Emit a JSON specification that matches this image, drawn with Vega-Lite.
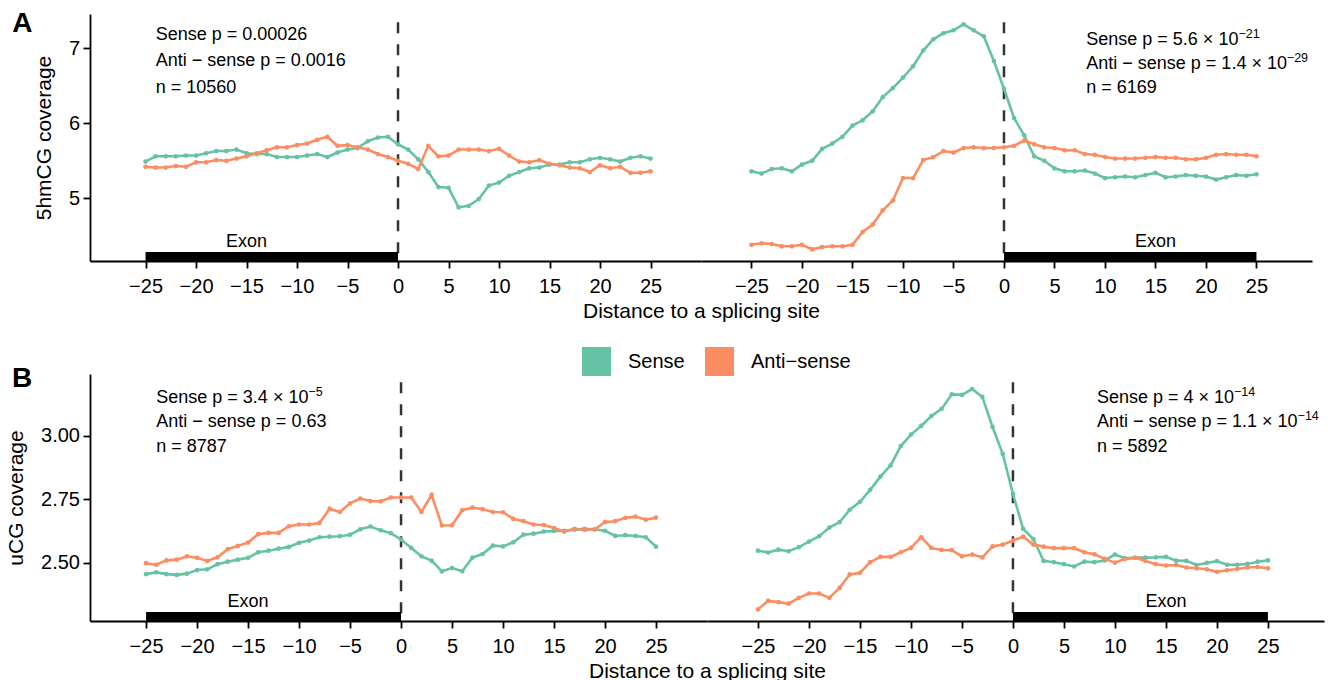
{
"$schema":"https://vega.github.io/schema/vega-lite/v6.json",
"padding":{"left":5,"top":10,"right":5,"bottom":5},
"bounds":"flush",
"spacing":113,
"config":{"view":{"stroke":null},"font":"Liberation Sans",
"axis":{"domainColor":"#000","domainWidth":1.8,"tickColor":"#000","tickWidth":1.8,"tickSize":7,"labelColor":"#000","labelFontSize":20,"labelFont":"Liberation Sans","titleFont":"Liberation Sans","titleFontSize":21,"titleFontWeight":"normal","titleColor":"#000","grid":false},
"legend":{"orient":"none","legendX":492,"legendY":333,"direction":"horizontal","symbolType":"square","symbolSize":841,"symbolStrokeWidth":0,"symbolOpacity":1,"labelFontSize":20,"labelOffset":17,"columnPadding":20,"labelFont":"Liberation Sans","labelColor":"#000"},
"text":{"font":"Liberation Sans","color":"#000"}},
"datasets":{
"hmc":[
{"site":"donor","strand":"Sense","dist":-25,"cov":5.49},{"site":"donor","strand":"Sense","dist":-24,"cov":5.56},{"site":"donor","strand":"Sense","dist":-23,"cov":5.56},{"site":"donor","strand":"Sense","dist":-22,"cov":5.56},{"site":"donor","strand":"Sense","dist":-21,"cov":5.57},{"site":"donor","strand":"Sense","dist":-20,"cov":5.57},{"site":"donor","strand":"Sense","dist":-19,"cov":5.60},{"site":"donor","strand":"Sense","dist":-18,"cov":5.63},{"site":"donor","strand":"Sense","dist":-17,"cov":5.63},{"site":"donor","strand":"Sense","dist":-16,"cov":5.65},{"site":"donor","strand":"Sense","dist":-15,"cov":5.60},{"site":"donor","strand":"Sense","dist":-14,"cov":5.59},{"site":"donor","strand":"Sense","dist":-13,"cov":5.59},{"site":"donor","strand":"Sense","dist":-12,"cov":5.55},{"site":"donor","strand":"Sense","dist":-11,"cov":5.55},{"site":"donor","strand":"Sense","dist":-10,"cov":5.55},{"site":"donor","strand":"Sense","dist":-9,"cov":5.57},{"site":"donor","strand":"Sense","dist":-8,"cov":5.59},{"site":"donor","strand":"Sense","dist":-7,"cov":5.55},{"site":"donor","strand":"Sense","dist":-6,"cov":5.61},{"site":"donor","strand":"Sense","dist":-5,"cov":5.65},{"site":"donor","strand":"Sense","dist":-4,"cov":5.67},{"site":"donor","strand":"Sense","dist":-3,"cov":5.76},{"site":"donor","strand":"Sense","dist":-2,"cov":5.81},{"site":"donor","strand":"Sense","dist":-1,"cov":5.82},{"site":"donor","strand":"Sense","dist":0,"cov":5.72},{"site":"donor","strand":"Sense","dist":1,"cov":5.65},{"site":"donor","strand":"Sense","dist":2,"cov":5.52},{"site":"donor","strand":"Sense","dist":3,"cov":5.35},{"site":"donor","strand":"Sense","dist":4,"cov":5.15},{"site":"donor","strand":"Sense","dist":5,"cov":5.14},{"site":"donor","strand":"Sense","dist":6,"cov":4.88},{"site":"donor","strand":"Sense","dist":7,"cov":4.90},{"site":"donor","strand":"Sense","dist":8,"cov":4.99},{"site":"donor","strand":"Sense","dist":9,"cov":5.17},{"site":"donor","strand":"Sense","dist":10,"cov":5.21},{"site":"donor","strand":"Sense","dist":11,"cov":5.30},{"site":"donor","strand":"Sense","dist":12,"cov":5.35},{"site":"donor","strand":"Sense","dist":13,"cov":5.40},{"site":"donor","strand":"Sense","dist":14,"cov":5.41},{"site":"donor","strand":"Sense","dist":15,"cov":5.45},{"site":"donor","strand":"Sense","dist":16,"cov":5.45},{"site":"donor","strand":"Sense","dist":17,"cov":5.48},{"site":"donor","strand":"Sense","dist":18,"cov":5.48},{"site":"donor","strand":"Sense","dist":19,"cov":5.52},{"site":"donor","strand":"Sense","dist":20,"cov":5.54},{"site":"donor","strand":"Sense","dist":21,"cov":5.52},{"site":"donor","strand":"Sense","dist":22,"cov":5.49},{"site":"donor","strand":"Sense","dist":23,"cov":5.54},{"site":"donor","strand":"Sense","dist":24,"cov":5.56},{"site":"donor","strand":"Sense","dist":25,"cov":5.53},
{"site":"donor","strand":"Anti−sense","dist":-25,"cov":5.42},{"site":"donor","strand":"Anti−sense","dist":-24,"cov":5.41},{"site":"donor","strand":"Anti−sense","dist":-23,"cov":5.41},{"site":"donor","strand":"Anti−sense","dist":-22,"cov":5.43},{"site":"donor","strand":"Anti−sense","dist":-21,"cov":5.42},{"site":"donor","strand":"Anti−sense","dist":-20,"cov":5.48},{"site":"donor","strand":"Anti−sense","dist":-19,"cov":5.48},{"site":"donor","strand":"Anti−sense","dist":-18,"cov":5.51},{"site":"donor","strand":"Anti−sense","dist":-17,"cov":5.50},{"site":"donor","strand":"Anti−sense","dist":-16,"cov":5.53},{"site":"donor","strand":"Anti−sense","dist":-15,"cov":5.56},{"site":"donor","strand":"Anti−sense","dist":-14,"cov":5.60},{"site":"donor","strand":"Anti−sense","dist":-13,"cov":5.64},{"site":"donor","strand":"Anti−sense","dist":-12,"cov":5.68},{"site":"donor","strand":"Anti−sense","dist":-11,"cov":5.68},{"site":"donor","strand":"Anti−sense","dist":-10,"cov":5.71},{"site":"donor","strand":"Anti−sense","dist":-9,"cov":5.73},{"site":"donor","strand":"Anti−sense","dist":-8,"cov":5.78},{"site":"donor","strand":"Anti−sense","dist":-7,"cov":5.82},{"site":"donor","strand":"Anti−sense","dist":-6,"cov":5.70},{"site":"donor","strand":"Anti−sense","dist":-5,"cov":5.71},{"site":"donor","strand":"Anti−sense","dist":-4,"cov":5.68},{"site":"donor","strand":"Anti−sense","dist":-3,"cov":5.65},{"site":"donor","strand":"Anti−sense","dist":-2,"cov":5.59},{"site":"donor","strand":"Anti−sense","dist":-1,"cov":5.55},{"site":"donor","strand":"Anti−sense","dist":0,"cov":5.50},{"site":"donor","strand":"Anti−sense","dist":1,"cov":5.46},{"site":"donor","strand":"Anti−sense","dist":2,"cov":5.39},{"site":"donor","strand":"Anti−sense","dist":3,"cov":5.70},{"site":"donor","strand":"Anti−sense","dist":4,"cov":5.56},{"site":"donor","strand":"Anti−sense","dist":5,"cov":5.57},{"site":"donor","strand":"Anti−sense","dist":6,"cov":5.65},{"site":"donor","strand":"Anti−sense","dist":7,"cov":5.65},{"site":"donor","strand":"Anti−sense","dist":8,"cov":5.65},{"site":"donor","strand":"Anti−sense","dist":9,"cov":5.63},{"site":"donor","strand":"Anti−sense","dist":10,"cov":5.66},{"site":"donor","strand":"Anti−sense","dist":11,"cov":5.57},{"site":"donor","strand":"Anti−sense","dist":12,"cov":5.49},{"site":"donor","strand":"Anti−sense","dist":13,"cov":5.48},{"site":"donor","strand":"Anti−sense","dist":14,"cov":5.51},{"site":"donor","strand":"Anti−sense","dist":15,"cov":5.46},{"site":"donor","strand":"Anti−sense","dist":16,"cov":5.44},{"site":"donor","strand":"Anti−sense","dist":17,"cov":5.41},{"site":"donor","strand":"Anti−sense","dist":18,"cov":5.40},{"site":"donor","strand":"Anti−sense","dist":19,"cov":5.35},{"site":"donor","strand":"Anti−sense","dist":20,"cov":5.44},{"site":"donor","strand":"Anti−sense","dist":21,"cov":5.40},{"site":"donor","strand":"Anti−sense","dist":22,"cov":5.42},{"site":"donor","strand":"Anti−sense","dist":23,"cov":5.34},{"site":"donor","strand":"Anti−sense","dist":24,"cov":5.34},{"site":"donor","strand":"Anti−sense","dist":25,"cov":5.36},
{"site":"acceptor","strand":"Sense","dist":-25,"cov":5.36},{"site":"acceptor","strand":"Sense","dist":-24,"cov":5.33},{"site":"acceptor","strand":"Sense","dist":-23,"cov":5.39},{"site":"acceptor","strand":"Sense","dist":-22,"cov":5.40},{"site":"acceptor","strand":"Sense","dist":-21,"cov":5.36},{"site":"acceptor","strand":"Sense","dist":-20,"cov":5.45},{"site":"acceptor","strand":"Sense","dist":-19,"cov":5.50},{"site":"acceptor","strand":"Sense","dist":-18,"cov":5.66},{"site":"acceptor","strand":"Sense","dist":-17,"cov":5.73},{"site":"acceptor","strand":"Sense","dist":-16,"cov":5.82},{"site":"acceptor","strand":"Sense","dist":-15,"cov":5.97},{"site":"acceptor","strand":"Sense","dist":-14,"cov":6.04},{"site":"acceptor","strand":"Sense","dist":-13,"cov":6.16},{"site":"acceptor","strand":"Sense","dist":-12,"cov":6.35},{"site":"acceptor","strand":"Sense","dist":-11,"cov":6.47},{"site":"acceptor","strand":"Sense","dist":-10,"cov":6.61},{"site":"acceptor","strand":"Sense","dist":-9,"cov":6.76},{"site":"acceptor","strand":"Sense","dist":-8,"cov":6.97},{"site":"acceptor","strand":"Sense","dist":-7,"cov":7.12},{"site":"acceptor","strand":"Sense","dist":-6,"cov":7.20},{"site":"acceptor","strand":"Sense","dist":-5,"cov":7.24},{"site":"acceptor","strand":"Sense","dist":-4,"cov":7.32},{"site":"acceptor","strand":"Sense","dist":-3,"cov":7.24},{"site":"acceptor","strand":"Sense","dist":-2,"cov":7.16},{"site":"acceptor","strand":"Sense","dist":-1,"cov":6.83},{"site":"acceptor","strand":"Sense","dist":0,"cov":6.46},{"site":"acceptor","strand":"Sense","dist":1,"cov":6.07},{"site":"acceptor","strand":"Sense","dist":2,"cov":5.84},{"site":"acceptor","strand":"Sense","dist":3,"cov":5.56},{"site":"acceptor","strand":"Sense","dist":4,"cov":5.50},{"site":"acceptor","strand":"Sense","dist":5,"cov":5.40},{"site":"acceptor","strand":"Sense","dist":6,"cov":5.36},{"site":"acceptor","strand":"Sense","dist":7,"cov":5.36},{"site":"acceptor","strand":"Sense","dist":8,"cov":5.37},{"site":"acceptor","strand":"Sense","dist":9,"cov":5.33},{"site":"acceptor","strand":"Sense","dist":10,"cov":5.27},{"site":"acceptor","strand":"Sense","dist":11,"cov":5.28},{"site":"acceptor","strand":"Sense","dist":12,"cov":5.29},{"site":"acceptor","strand":"Sense","dist":13,"cov":5.28},{"site":"acceptor","strand":"Sense","dist":14,"cov":5.31},{"site":"acceptor","strand":"Sense","dist":15,"cov":5.34},{"site":"acceptor","strand":"Sense","dist":16,"cov":5.28},{"site":"acceptor","strand":"Sense","dist":17,"cov":5.29},{"site":"acceptor","strand":"Sense","dist":18,"cov":5.31},{"site":"acceptor","strand":"Sense","dist":19,"cov":5.30},{"site":"acceptor","strand":"Sense","dist":20,"cov":5.29},{"site":"acceptor","strand":"Sense","dist":21,"cov":5.25},{"site":"acceptor","strand":"Sense","dist":22,"cov":5.28},{"site":"acceptor","strand":"Sense","dist":23,"cov":5.31},{"site":"acceptor","strand":"Sense","dist":24,"cov":5.30},{"site":"acceptor","strand":"Sense","dist":25,"cov":5.32},
{"site":"acceptor","strand":"Anti−sense","dist":-25,"cov":4.38},{"site":"acceptor","strand":"Anti−sense","dist":-24,"cov":4.40},{"site":"acceptor","strand":"Anti−sense","dist":-23,"cov":4.39},{"site":"acceptor","strand":"Anti−sense","dist":-22,"cov":4.36},{"site":"acceptor","strand":"Anti−sense","dist":-21,"cov":4.36},{"site":"acceptor","strand":"Anti−sense","dist":-20,"cov":4.38},{"site":"acceptor","strand":"Anti−sense","dist":-19,"cov":4.32},{"site":"acceptor","strand":"Anti−sense","dist":-18,"cov":4.35},{"site":"acceptor","strand":"Anti−sense","dist":-17,"cov":4.36},{"site":"acceptor","strand":"Anti−sense","dist":-16,"cov":4.36},{"site":"acceptor","strand":"Anti−sense","dist":-15,"cov":4.38},{"site":"acceptor","strand":"Anti−sense","dist":-14,"cov":4.55},{"site":"acceptor","strand":"Anti−sense","dist":-13,"cov":4.65},{"site":"acceptor","strand":"Anti−sense","dist":-12,"cov":4.84},{"site":"acceptor","strand":"Anti−sense","dist":-11,"cov":4.97},{"site":"acceptor","strand":"Anti−sense","dist":-10,"cov":5.27},{"site":"acceptor","strand":"Anti−sense","dist":-9,"cov":5.27},{"site":"acceptor","strand":"Anti−sense","dist":-8,"cov":5.51},{"site":"acceptor","strand":"Anti−sense","dist":-7,"cov":5.55},{"site":"acceptor","strand":"Anti−sense","dist":-6,"cov":5.63},{"site":"acceptor","strand":"Anti−sense","dist":-5,"cov":5.61},{"site":"acceptor","strand":"Anti−sense","dist":-4,"cov":5.67},{"site":"acceptor","strand":"Anti−sense","dist":-3,"cov":5.68},{"site":"acceptor","strand":"Anti−sense","dist":-2,"cov":5.67},{"site":"acceptor","strand":"Anti−sense","dist":-1,"cov":5.67},{"site":"acceptor","strand":"Anti−sense","dist":0,"cov":5.68},{"site":"acceptor","strand":"Anti−sense","dist":1,"cov":5.70},{"site":"acceptor","strand":"Anti−sense","dist":2,"cov":5.77},{"site":"acceptor","strand":"Anti−sense","dist":3,"cov":5.72},{"site":"acceptor","strand":"Anti−sense","dist":4,"cov":5.68},{"site":"acceptor","strand":"Anti−sense","dist":5,"cov":5.67},{"site":"acceptor","strand":"Anti−sense","dist":6,"cov":5.64},{"site":"acceptor","strand":"Anti−sense","dist":7,"cov":5.64},{"site":"acceptor","strand":"Anti−sense","dist":8,"cov":5.59},{"site":"acceptor","strand":"Anti−sense","dist":9,"cov":5.58},{"site":"acceptor","strand":"Anti−sense","dist":10,"cov":5.55},{"site":"acceptor","strand":"Anti−sense","dist":11,"cov":5.53},{"site":"acceptor","strand":"Anti−sense","dist":12,"cov":5.53},{"site":"acceptor","strand":"Anti−sense","dist":13,"cov":5.53},{"site":"acceptor","strand":"Anti−sense","dist":14,"cov":5.54},{"site":"acceptor","strand":"Anti−sense","dist":15,"cov":5.55},{"site":"acceptor","strand":"Anti−sense","dist":16,"cov":5.54},{"site":"acceptor","strand":"Anti−sense","dist":17,"cov":5.54},{"site":"acceptor","strand":"Anti−sense","dist":18,"cov":5.52},{"site":"acceptor","strand":"Anti−sense","dist":19,"cov":5.52},{"site":"acceptor","strand":"Anti−sense","dist":20,"cov":5.54},{"site":"acceptor","strand":"Anti−sense","dist":21,"cov":5.58},{"site":"acceptor","strand":"Anti−sense","dist":22,"cov":5.59},{"site":"acceptor","strand":"Anti−sense","dist":23,"cov":5.58},{"site":"acceptor","strand":"Anti−sense","dist":24,"cov":5.58},{"site":"acceptor","strand":"Anti−sense","dist":25,"cov":5.56}
],
"ucg":[
{"site":"donor","strand":"Sense","dist":-25,"cov":2.456},{"site":"donor","strand":"Sense","dist":-24,"cov":2.463},{"site":"donor","strand":"Sense","dist":-23,"cov":2.456},{"site":"donor","strand":"Sense","dist":-22,"cov":2.453},{"site":"donor","strand":"Sense","dist":-21,"cov":2.458},{"site":"donor","strand":"Sense","dist":-20,"cov":2.472},{"site":"donor","strand":"Sense","dist":-19,"cov":2.475},{"site":"donor","strand":"Sense","dist":-18,"cov":2.495},{"site":"donor","strand":"Sense","dist":-17,"cov":2.505},{"site":"donor","strand":"Sense","dist":-16,"cov":2.513},{"site":"donor","strand":"Sense","dist":-15,"cov":2.520},{"site":"donor","strand":"Sense","dist":-14,"cov":2.542},{"site":"donor","strand":"Sense","dist":-13,"cov":2.548},{"site":"donor","strand":"Sense","dist":-12,"cov":2.556},{"site":"donor","strand":"Sense","dist":-11,"cov":2.563},{"site":"donor","strand":"Sense","dist":-10,"cov":2.579},{"site":"donor","strand":"Sense","dist":-9,"cov":2.588},{"site":"donor","strand":"Sense","dist":-8,"cov":2.601},{"site":"donor","strand":"Sense","dist":-7,"cov":2.603},{"site":"donor","strand":"Sense","dist":-6,"cov":2.605},{"site":"donor","strand":"Sense","dist":-5,"cov":2.611},{"site":"donor","strand":"Sense","dist":-4,"cov":2.632},{"site":"donor","strand":"Sense","dist":-3,"cov":2.643},{"site":"donor","strand":"Sense","dist":-2,"cov":2.628},{"site":"donor","strand":"Sense","dist":-1,"cov":2.617},{"site":"donor","strand":"Sense","dist":0,"cov":2.592},{"site":"donor","strand":"Sense","dist":1,"cov":2.559},{"site":"donor","strand":"Sense","dist":2,"cov":2.526},{"site":"donor","strand":"Sense","dist":3,"cov":2.509},{"site":"donor","strand":"Sense","dist":4,"cov":2.467},{"site":"donor","strand":"Sense","dist":5,"cov":2.480},{"site":"donor","strand":"Sense","dist":6,"cov":2.467},{"site":"donor","strand":"Sense","dist":7,"cov":2.521},{"site":"donor","strand":"Sense","dist":8,"cov":2.535},{"site":"donor","strand":"Sense","dist":9,"cov":2.568},{"site":"donor","strand":"Sense","dist":10,"cov":2.565},{"site":"donor","strand":"Sense","dist":11,"cov":2.581},{"site":"donor","strand":"Sense","dist":12,"cov":2.611},{"site":"donor","strand":"Sense","dist":13,"cov":2.615},{"site":"donor","strand":"Sense","dist":14,"cov":2.623},{"site":"donor","strand":"Sense","dist":15,"cov":2.626},{"site":"donor","strand":"Sense","dist":16,"cov":2.626},{"site":"donor","strand":"Sense","dist":17,"cov":2.631},{"site":"donor","strand":"Sense","dist":18,"cov":2.634},{"site":"donor","strand":"Sense","dist":19,"cov":2.632},{"site":"donor","strand":"Sense","dist":20,"cov":2.626},{"site":"donor","strand":"Sense","dist":21,"cov":2.606},{"site":"donor","strand":"Sense","dist":22,"cov":2.609},{"site":"donor","strand":"Sense","dist":23,"cov":2.606},{"site":"donor","strand":"Sense","dist":24,"cov":2.601},{"site":"donor","strand":"Sense","dist":25,"cov":2.564},
{"site":"donor","strand":"Anti−sense","dist":-25,"cov":2.499},{"site":"donor","strand":"Anti−sense","dist":-24,"cov":2.493},{"site":"donor","strand":"Anti−sense","dist":-23,"cov":2.510},{"site":"donor","strand":"Anti−sense","dist":-22,"cov":2.513},{"site":"donor","strand":"Anti−sense","dist":-21,"cov":2.526},{"site":"donor","strand":"Anti−sense","dist":-20,"cov":2.520},{"site":"donor","strand":"Anti−sense","dist":-19,"cov":2.508},{"site":"donor","strand":"Anti−sense","dist":-18,"cov":2.522},{"site":"donor","strand":"Anti−sense","dist":-17,"cov":2.554},{"site":"donor","strand":"Anti−sense","dist":-16,"cov":2.567},{"site":"donor","strand":"Anti−sense","dist":-15,"cov":2.580},{"site":"donor","strand":"Anti−sense","dist":-14,"cov":2.613},{"site":"donor","strand":"Anti−sense","dist":-13,"cov":2.618},{"site":"donor","strand":"Anti−sense","dist":-12,"cov":2.618},{"site":"donor","strand":"Anti−sense","dist":-11,"cov":2.644},{"site":"donor","strand":"Anti−sense","dist":-10,"cov":2.651},{"site":"donor","strand":"Anti−sense","dist":-9,"cov":2.651},{"site":"donor","strand":"Anti−sense","dist":-8,"cov":2.657},{"site":"donor","strand":"Anti−sense","dist":-7,"cov":2.713},{"site":"donor","strand":"Anti−sense","dist":-6,"cov":2.700},{"site":"donor","strand":"Anti−sense","dist":-5,"cov":2.734},{"site":"donor","strand":"Anti−sense","dist":-4,"cov":2.753},{"site":"donor","strand":"Anti−sense","dist":-3,"cov":2.743},{"site":"donor","strand":"Anti−sense","dist":-2,"cov":2.742},{"site":"donor","strand":"Anti−sense","dist":-1,"cov":2.757},{"site":"donor","strand":"Anti−sense","dist":0,"cov":2.757},{"site":"donor","strand":"Anti−sense","dist":1,"cov":2.757},{"site":"donor","strand":"Anti−sense","dist":2,"cov":2.700},{"site":"donor","strand":"Anti−sense","dist":3,"cov":2.767},{"site":"donor","strand":"Anti−sense","dist":4,"cov":2.647},{"site":"donor","strand":"Anti−sense","dist":5,"cov":2.648},{"site":"donor","strand":"Anti−sense","dist":6,"cov":2.707},{"site":"donor","strand":"Anti−sense","dist":7,"cov":2.717},{"site":"donor","strand":"Anti−sense","dist":8,"cov":2.711},{"site":"donor","strand":"Anti−sense","dist":9,"cov":2.700},{"site":"donor","strand":"Anti−sense","dist":10,"cov":2.699},{"site":"donor","strand":"Anti−sense","dist":11,"cov":2.673},{"site":"donor","strand":"Anti−sense","dist":12,"cov":2.664},{"site":"donor","strand":"Anti−sense","dist":13,"cov":2.651},{"site":"donor","strand":"Anti−sense","dist":14,"cov":2.649},{"site":"donor","strand":"Anti−sense","dist":15,"cov":2.637},{"site":"donor","strand":"Anti−sense","dist":16,"cov":2.623},{"site":"donor","strand":"Anti−sense","dist":17,"cov":2.634},{"site":"donor","strand":"Anti−sense","dist":18,"cov":2.630},{"site":"donor","strand":"Anti−sense","dist":19,"cov":2.632},{"site":"donor","strand":"Anti−sense","dist":20,"cov":2.661},{"site":"donor","strand":"Anti−sense","dist":21,"cov":2.664},{"site":"donor","strand":"Anti−sense","dist":22,"cov":2.677},{"site":"donor","strand":"Anti−sense","dist":23,"cov":2.682},{"site":"donor","strand":"Anti−sense","dist":24,"cov":2.670},{"site":"donor","strand":"Anti−sense","dist":25,"cov":2.678},
{"site":"acceptor","strand":"Sense","dist":-25,"cov":2.548},{"site":"acceptor","strand":"Sense","dist":-24,"cov":2.541},{"site":"acceptor","strand":"Sense","dist":-23,"cov":2.552},{"site":"acceptor","strand":"Sense","dist":-22,"cov":2.546},{"site":"acceptor","strand":"Sense","dist":-21,"cov":2.562},{"site":"acceptor","strand":"Sense","dist":-20,"cov":2.584},{"site":"acceptor","strand":"Sense","dist":-19,"cov":2.605},{"site":"acceptor","strand":"Sense","dist":-18,"cov":2.639},{"site":"acceptor","strand":"Sense","dist":-17,"cov":2.660},{"site":"acceptor","strand":"Sense","dist":-16,"cov":2.709},{"site":"acceptor","strand":"Sense","dist":-15,"cov":2.740},{"site":"acceptor","strand":"Sense","dist":-14,"cov":2.787},{"site":"acceptor","strand":"Sense","dist":-13,"cov":2.839},{"site":"acceptor","strand":"Sense","dist":-12,"cov":2.883},{"site":"acceptor","strand":"Sense","dist":-11,"cov":2.959},{"site":"acceptor","strand":"Sense","dist":-10,"cov":3.004},{"site":"acceptor","strand":"Sense","dist":-9,"cov":3.038},{"site":"acceptor","strand":"Sense","dist":-8,"cov":3.077},{"site":"acceptor","strand":"Sense","dist":-7,"cov":3.105},{"site":"acceptor","strand":"Sense","dist":-6,"cov":3.162},{"site":"acceptor","strand":"Sense","dist":-5,"cov":3.160},{"site":"acceptor","strand":"Sense","dist":-4,"cov":3.183},{"site":"acceptor","strand":"Sense","dist":-3,"cov":3.152},{"site":"acceptor","strand":"Sense","dist":-2,"cov":3.034},{"site":"acceptor","strand":"Sense","dist":-1,"cov":2.928},{"site":"acceptor","strand":"Sense","dist":0,"cov":2.771},{"site":"acceptor","strand":"Sense","dist":1,"cov":2.634},{"site":"acceptor","strand":"Sense","dist":2,"cov":2.594},{"site":"acceptor","strand":"Sense","dist":3,"cov":2.508},{"site":"acceptor","strand":"Sense","dist":4,"cov":2.503},{"site":"acceptor","strand":"Sense","dist":5,"cov":2.495},{"site":"acceptor","strand":"Sense","dist":6,"cov":2.486},{"site":"acceptor","strand":"Sense","dist":7,"cov":2.505},{"site":"acceptor","strand":"Sense","dist":8,"cov":2.503},{"site":"acceptor","strand":"Sense","dist":9,"cov":2.510},{"site":"acceptor","strand":"Sense","dist":10,"cov":2.533},{"site":"acceptor","strand":"Sense","dist":11,"cov":2.518},{"site":"acceptor","strand":"Sense","dist":12,"cov":2.521},{"site":"acceptor","strand":"Sense","dist":13,"cov":2.521},{"site":"acceptor","strand":"Sense","dist":14,"cov":2.522},{"site":"acceptor","strand":"Sense","dist":15,"cov":2.524},{"site":"acceptor","strand":"Sense","dist":16,"cov":2.509},{"site":"acceptor","strand":"Sense","dist":17,"cov":2.508},{"site":"acceptor","strand":"Sense","dist":18,"cov":2.492},{"site":"acceptor","strand":"Sense","dist":19,"cov":2.500},{"site":"acceptor","strand":"Sense","dist":20,"cov":2.507},{"site":"acceptor","strand":"Sense","dist":21,"cov":2.493},{"site":"acceptor","strand":"Sense","dist":22,"cov":2.493},{"site":"acceptor","strand":"Sense","dist":23,"cov":2.496},{"site":"acceptor","strand":"Sense","dist":24,"cov":2.505},{"site":"acceptor","strand":"Sense","dist":25,"cov":2.510},
{"site":"acceptor","strand":"Anti−sense","dist":-25,"cov":2.318},{"site":"acceptor","strand":"Anti−sense","dist":-24,"cov":2.351},{"site":"acceptor","strand":"Anti−sense","dist":-23,"cov":2.346},{"site":"acceptor","strand":"Anti−sense","dist":-22,"cov":2.340},{"site":"acceptor","strand":"Anti−sense","dist":-21,"cov":2.363},{"site":"acceptor","strand":"Anti−sense","dist":-20,"cov":2.380},{"site":"acceptor","strand":"Anti−sense","dist":-19,"cov":2.380},{"site":"acceptor","strand":"Anti−sense","dist":-18,"cov":2.363},{"site":"acceptor","strand":"Anti−sense","dist":-17,"cov":2.402},{"site":"acceptor","strand":"Anti−sense","dist":-16,"cov":2.455},{"site":"acceptor","strand":"Anti−sense","dist":-15,"cov":2.461},{"site":"acceptor","strand":"Anti−sense","dist":-14,"cov":2.503},{"site":"acceptor","strand":"Anti−sense","dist":-13,"cov":2.524},{"site":"acceptor","strand":"Anti−sense","dist":-12,"cov":2.524},{"site":"acceptor","strand":"Anti−sense","dist":-11,"cov":2.542},{"site":"acceptor","strand":"Anti−sense","dist":-10,"cov":2.559},{"site":"acceptor","strand":"Anti−sense","dist":-9,"cov":2.601},{"site":"acceptor","strand":"Anti−sense","dist":-8,"cov":2.559},{"site":"acceptor","strand":"Anti−sense","dist":-7,"cov":2.551},{"site":"acceptor","strand":"Anti−sense","dist":-6,"cov":2.550},{"site":"acceptor","strand":"Anti−sense","dist":-5,"cov":2.526},{"site":"acceptor","strand":"Anti−sense","dist":-4,"cov":2.533},{"site":"acceptor","strand":"Anti−sense","dist":-3,"cov":2.522},{"site":"acceptor","strand":"Anti−sense","dist":-2,"cov":2.565},{"site":"acceptor","strand":"Anti−sense","dist":-1,"cov":2.572},{"site":"acceptor","strand":"Anti−sense","dist":0,"cov":2.588},{"site":"acceptor","strand":"Anti−sense","dist":1,"cov":2.603},{"site":"acceptor","strand":"Anti−sense","dist":2,"cov":2.572},{"site":"acceptor","strand":"Anti−sense","dist":3,"cov":2.564},{"site":"acceptor","strand":"Anti−sense","dist":4,"cov":2.558},{"site":"acceptor","strand":"Anti−sense","dist":5,"cov":2.558},{"site":"acceptor","strand":"Anti−sense","dist":6,"cov":2.558},{"site":"acceptor","strand":"Anti−sense","dist":7,"cov":2.542},{"site":"acceptor","strand":"Anti−sense","dist":8,"cov":2.534},{"site":"acceptor","strand":"Anti−sense","dist":9,"cov":2.516},{"site":"acceptor","strand":"Anti−sense","dist":10,"cov":2.501},{"site":"acceptor","strand":"Anti−sense","dist":11,"cov":2.516},{"site":"acceptor","strand":"Anti−sense","dist":12,"cov":2.520},{"site":"acceptor","strand":"Anti−sense","dist":13,"cov":2.508},{"site":"acceptor","strand":"Anti−sense","dist":14,"cov":2.495},{"site":"acceptor","strand":"Anti−sense","dist":15,"cov":2.490},{"site":"acceptor","strand":"Anti−sense","dist":16,"cov":2.492},{"site":"acceptor","strand":"Anti−sense","dist":17,"cov":2.482},{"site":"acceptor","strand":"Anti−sense","dist":18,"cov":2.479},{"site":"acceptor","strand":"Anti−sense","dist":19,"cov":2.475},{"site":"acceptor","strand":"Anti−sense","dist":20,"cov":2.465},{"site":"acceptor","strand":"Anti−sense","dist":21,"cov":2.471},{"site":"acceptor","strand":"Anti−sense","dist":22,"cov":2.476},{"site":"acceptor","strand":"Anti−sense","dist":23,"cov":2.482},{"site":"acceptor","strand":"Anti−sense","dist":24,"cov":2.484},{"site":"acceptor","strand":"Anti−sense","dist":25,"cov":2.479}
]},
"vconcat":[
{"width":1222,"height":247,
"resolve":{"scale":{"x":"independent"},"axis":{"x":"independent"}},
"layer":[
{"encoding":{"x":{"field":"dist","type":"quantitative","scale":{"domain":[-30.5,30],"range":[0,611],"nice":false,"zero":false},"axis":{"orient":"bottom","values":[-25,-20,-15,-10,-5,0,5,10,15,20,25],"title":"Distance to a splicing site","titleAnchor":"end","titleAlign":"center","labelPadding":8,"titlePadding":4}}},
"layer":[
{"data":{"values":[{"dist":0}]},"mark":{"type":"rule","color":"#333333","strokeWidth":2.5,"strokeDash":[11,11],"strokeDashOffset":13.7}},
{"data":{"name":"hmc"},"transform":[{"filter":"datum.site == 'donor'"}],"mark":{"type":"line","strokeWidth":2.6},
"encoding":{"y":{"field":"cov","type":"quantitative","scale":{"domain":[4.164,7.457],"nice":false,"zero":false},"axis":{"values":[5,6,7],"format":"d","title":"5hmCG coverage","labelPadding":3.5,"titlePadding":14}},
"color":{"field":"strand","type":"nominal","title":null,"scale":{"domain":["Sense","Anti−sense"],"range":["#66C2A5","#FC8D62"]}}}},
{"data":{"name":"hmc"},"transform":[{"filter":"datum.site == 'donor'"}],"mark":{"type":"point","filled":true,"size":22,"opacity":1},
"encoding":{"y":{"field":"cov","type":"quantitative","scale":{"domain":[4.164,7.457],"nice":false,"zero":false},"axis":{"values":[5,6,7],"format":"d","title":"5hmCG coverage","labelPadding":3.5,"titlePadding":14}},
"color":{"field":"strand","type":"nominal","title":null,"scale":{"domain":["Sense","Anti−sense"],"range":["#66C2A5","#FC8D62"]}}}},
{"data":{"values":[{"dist":-25,"end":0}]},"mark":{"type":"rect","color":"#000"},"encoding":{"x2":{"field":"end"},"y":{"datum":4.284,"type":"quantitative","scale":{"domain":[4.164,7.457],"nice":false,"zero":false},"axis":{"values":[5,6,7],"format":"d","title":"5hmCG coverage","labelPadding":3.5,"titlePadding":14}},"y2":{"datum":4.164}}},
{"data":{"values":[{"dist":-15,"cov":4.351,"label":"Exon"}]},"mark":{"type":"text","align":"center","baseline":"alphabetic","fontSize":18},"encoding":{"text":{"field":"label"},"y":{"field":"cov","type":"quantitative","scale":{"domain":[4.164,7.457],"nice":false,"zero":false},"axis":{"values":[5,6,7],"format":"d","title":"5hmCG coverage","labelPadding":3.5,"titlePadding":14}}}},
{"data":{"values":[{"dist":-38.2,"cov":7.217,"label":"A"}]},"mark":{"type":"text","align":"left","baseline":"alphabetic","fontSize":28,"fontWeight":"bold"},"encoding":{"text":{"field":"label"},"y":{"field":"cov","type":"quantitative","scale":{"domain":[4.164,7.457],"nice":false,"zero":false},"axis":{"values":[5,6,7],"format":"d","title":"5hmCG coverage","labelPadding":3.5,"titlePadding":14}}}},
{"data":{"values":[{"dist":-24,"cov":7.115}]},"mark":{"type":"text","text":["Sense p = 0.00026","Anti − sense p = 0.0016","n = 10560"],"fontSize":18,"lineHeight":26.8,"align":"left","baseline":"alphabetic"},"encoding":{"y":{"field":"cov","type":"quantitative","scale":{"domain":[4.164,7.457],"nice":false,"zero":false},"axis":{"values":[5,6,7],"format":"d","title":"5hmCG coverage","labelPadding":3.5,"titlePadding":14}}}}
]},
{"encoding":{"x":{"field":"dist","type":"quantitative","scale":{"domain":[-30,30.5],"range":[611,1222],"nice":false,"zero":false},"axis":{"orient":"bottom","values":[-25,-20,-15,-10,-5,0,5,10,15,20,25],"title":null,"labelPadding":8}}},
"layer":[
{"data":{"values":[{"dist":0}]},"mark":{"type":"rule","color":"#333333","strokeWidth":2.5,"strokeDash":[11,11],"strokeDashOffset":13.7}},
{"data":{"name":"hmc"},"transform":[{"filter":"datum.site == 'acceptor'"}],"mark":{"type":"line","strokeWidth":2.6},
"encoding":{"y":{"field":"cov","type":"quantitative","scale":{"domain":[4.164,7.457],"nice":false,"zero":false},"axis":{"values":[5,6,7],"format":"d","title":"5hmCG coverage","labelPadding":3.5,"titlePadding":14}},
"color":{"field":"strand","type":"nominal","title":null,"scale":{"domain":["Sense","Anti−sense"],"range":["#66C2A5","#FC8D62"]}}}},
{"data":{"name":"hmc"},"transform":[{"filter":"datum.site == 'acceptor'"}],"mark":{"type":"point","filled":true,"size":22,"opacity":1},
"encoding":{"y":{"field":"cov","type":"quantitative","scale":{"domain":[4.164,7.457],"nice":false,"zero":false},"axis":{"values":[5,6,7],"format":"d","title":"5hmCG coverage","labelPadding":3.5,"titlePadding":14}},
"color":{"field":"strand","type":"nominal","title":null,"scale":{"domain":["Sense","Anti−sense"],"range":["#66C2A5","#FC8D62"]}}}},
{"data":{"values":[{"dist":0,"end":25}]},"mark":{"type":"rect","color":"#000"},"encoding":{"x2":{"field":"end"},"y":{"datum":4.284,"type":"quantitative","scale":{"domain":[4.164,7.457],"nice":false,"zero":false},"axis":{"values":[5,6,7],"format":"d","title":"5hmCG coverage","labelPadding":3.5,"titlePadding":14}},"y2":{"datum":4.164}}},
{"data":{"values":[{"dist":15,"cov":4.351,"label":"Exon"}]},"mark":{"type":"text","align":"center","baseline":"alphabetic","fontSize":18},"encoding":{"text":{"field":"label"},"y":{"field":"cov","type":"quantitative","scale":{"domain":[4.164,7.457],"nice":false,"zero":false},"axis":{"values":[5,6,7],"format":"d","title":"5hmCG coverage","labelPadding":3.5,"titlePadding":14}}}},
{"data":{"values":[{"dist":8.15,"cov":7.044}]},"mark":{"type":"text","text":["Sense p = 5.6 × 10","Anti − sense p = 1.4 × 10","n = 6169"],"fontSize":18,"lineHeight":24.2,"align":"left","baseline":"alphabetic"},"encoding":{"y":{"field":"cov","type":"quantitative","scale":{"domain":[4.164,7.457],"nice":false,"zero":false},"axis":{"values":[5,6,7],"format":"d","title":"5hmCG coverage","labelPadding":3.5,"titlePadding":14}}}},
{"data":{"values":[{"dist":23.21,"cov":7.137,"label":"−21"},{"dist":28.01,"cov":6.814,"label":"−29"}]},"mark":{"type":"text","fontSize":12.5,"align":"left","baseline":"alphabetic"},"encoding":{"text":{"field":"label"},"y":{"field":"cov","type":"quantitative","scale":{"domain":[4.164,7.457],"nice":false,"zero":false},"axis":{"values":[5,6,7],"format":"d","title":"5hmCG coverage","labelPadding":3.5,"titlePadding":14}}}}
]}
]},
{"width":1234,"height":247,
"resolve":{"scale":{"x":"independent"},"axis":{"x":"independent"}},
"layer":[
{"encoding":{"x":{"field":"dist","type":"quantitative","scale":{"domain":[-30.5,30],"range":[0,617],"nice":false,"zero":false},"axis":{"orient":"bottom","values":[-25,-20,-15,-10,-5,0,5,10,15,20,25],"title":"Distance to a splicing site","titleAnchor":"end","titleAlign":"center","labelPadding":8,"titlePadding":4}}},
"layer":[
{"data":{"values":[{"dist":0}]},"mark":{"type":"rule","color":"#333333","strokeWidth":2.5,"strokeDash":[11,11],"strokeDashOffset":13.7}},
{"data":{"name":"ucg"},"transform":[{"filter":"datum.site == 'donor'"}],"mark":{"type":"line","strokeWidth":2.6},
"encoding":{"y":{"field":"cov","type":"quantitative","scale":{"domain":[2.272,3.242],"nice":false,"zero":false},"axis":{"values":[2.5,2.75,3.0],"format":".2f","title":"uCG coverage","labelPadding":3.5,"titlePadding":14}},
"color":{"field":"strand","type":"nominal","title":null,"scale":{"domain":["Sense","Anti−sense"],"range":["#66C2A5","#FC8D62"]}}}},
{"data":{"name":"ucg"},"transform":[{"filter":"datum.site == 'donor'"}],"mark":{"type":"point","filled":true,"size":22,"opacity":1},
"encoding":{"y":{"field":"cov","type":"quantitative","scale":{"domain":[2.272,3.242],"nice":false,"zero":false},"axis":{"values":[2.5,2.75,3.0],"format":".2f","title":"uCG coverage","labelPadding":3.5,"titlePadding":14}},
"color":{"field":"strand","type":"nominal","title":null,"scale":{"domain":["Sense","Anti−sense"],"range":["#66C2A5","#FC8D62"]}}}},
{"data":{"values":[{"dist":-25,"end":0}]},"mark":{"type":"rect","color":"#000"},"encoding":{"x2":{"field":"end"},"y":{"datum":2.3075,"type":"quantitative","scale":{"domain":[2.272,3.242],"nice":false,"zero":false},"axis":{"values":[2.5,2.75,3.0],"format":".2f","title":"uCG coverage","labelPadding":3.5,"titlePadding":14}},"y2":{"datum":2.272}}},
{"data":{"values":[{"dist":-15,"cov":2.327,"label":"Exon"}]},"mark":{"type":"text","align":"center","baseline":"alphabetic","fontSize":18},"encoding":{"text":{"field":"label"},"y":{"field":"cov","type":"quantitative","scale":{"domain":[2.272,3.242],"nice":false,"zero":false},"axis":{"values":[2.5,2.75,3.0],"format":".2f","title":"uCG coverage","labelPadding":3.5,"titlePadding":14}}}},
{"data":{"values":[{"dist":-38.15,"cov":3.19,"label":"B"}]},"mark":{"type":"text","align":"left","baseline":"alphabetic","fontSize":28,"fontWeight":"bold"},"encoding":{"text":{"field":"label"},"y":{"field":"cov","type":"quantitative","scale":{"domain":[2.272,3.242],"nice":false,"zero":false},"axis":{"values":[2.5,2.75,3.0],"format":".2f","title":"uCG coverage","labelPadding":3.5,"titlePadding":14}}}},
{"data":{"values":[{"dist":-24,"cov":3.127}]},"mark":{"type":"text","text":["Sense p = 3.4 × 10","Anti − sense p = 0.63","n = 8787"],"fontSize":18,"lineHeight":24.2,"align":"left","baseline":"alphabetic"},"encoding":{"y":{"field":"cov","type":"quantitative","scale":{"domain":[2.272,3.242],"nice":false,"zero":false},"axis":{"values":[2.5,2.75,3.0],"format":".2f","title":"uCG coverage","labelPadding":3.5,"titlePadding":14}}}},
{"data":{"values":[{"dist":-9.09,"cov":3.1545,"label":"−5"}]},"mark":{"type":"text","fontSize":12.5,"align":"left","baseline":"alphabetic"},"encoding":{"text":{"field":"label"},"y":{"field":"cov","type":"quantitative","scale":{"domain":[2.272,3.242],"nice":false,"zero":false},"axis":{"values":[2.5,2.75,3.0],"format":".2f","title":"uCG coverage","labelPadding":3.5,"titlePadding":14}}}}
]},
{"encoding":{"x":{"field":"dist","type":"quantitative","scale":{"domain":[-30,30.5],"range":[617,1234],"nice":false,"zero":false},"axis":{"orient":"bottom","values":[-25,-20,-15,-10,-5,0,5,10,15,20,25],"title":null,"labelPadding":8}}},
"layer":[
{"data":{"values":[{"dist":0}]},"mark":{"type":"rule","color":"#333333","strokeWidth":2.5,"strokeDash":[11,11],"strokeDashOffset":13.7}},
{"data":{"name":"ucg"},"transform":[{"filter":"datum.site == 'acceptor'"}],"mark":{"type":"line","strokeWidth":2.6},
"encoding":{"y":{"field":"cov","type":"quantitative","scale":{"domain":[2.272,3.242],"nice":false,"zero":false},"axis":{"values":[2.5,2.75,3.0],"format":".2f","title":"uCG coverage","labelPadding":3.5,"titlePadding":14}},
"color":{"field":"strand","type":"nominal","title":null,"scale":{"domain":["Sense","Anti−sense"],"range":["#66C2A5","#FC8D62"]}}}},
{"data":{"name":"ucg"},"transform":[{"filter":"datum.site == 'acceptor'"}],"mark":{"type":"point","filled":true,"size":22,"opacity":1},
"encoding":{"y":{"field":"cov","type":"quantitative","scale":{"domain":[2.272,3.242],"nice":false,"zero":false},"axis":{"values":[2.5,2.75,3.0],"format":".2f","title":"uCG coverage","labelPadding":3.5,"titlePadding":14}},
"color":{"field":"strand","type":"nominal","title":null,"scale":{"domain":["Sense","Anti−sense"],"range":["#66C2A5","#FC8D62"]}}}},
{"data":{"values":[{"dist":0,"end":25}]},"mark":{"type":"rect","color":"#000"},"encoding":{"x2":{"field":"end"},"y":{"datum":2.3075,"type":"quantitative","scale":{"domain":[2.272,3.242],"nice":false,"zero":false},"axis":{"values":[2.5,2.75,3.0],"format":".2f","title":"uCG coverage","labelPadding":3.5,"titlePadding":14}},"y2":{"datum":2.272}}},
{"data":{"values":[{"dist":15,"cov":2.327,"label":"Exon"}]},"mark":{"type":"text","align":"center","baseline":"alphabetic","fontSize":18},"encoding":{"text":{"field":"label"},"y":{"field":"cov","type":"quantitative","scale":{"domain":[2.272,3.242],"nice":false,"zero":false},"axis":{"values":[2.5,2.75,3.0],"format":".2f","title":"uCG coverage","labelPadding":3.5,"titlePadding":14}}}},
{"data":{"values":[{"dist":8.24,"cov":3.127}]},"mark":{"type":"text","text":["Sense p = 4 × 10","Anti − sense p = 1.1 × 10","n = 5892"],"fontSize":18,"lineHeight":24.2,"align":"left","baseline":"alphabetic"},"encoding":{"y":{"field":"cov","type":"quantitative","scale":{"domain":[2.272,3.242],"nice":false,"zero":false},"axis":{"values":[2.5,2.75,3.0],"format":".2f","title":"uCG coverage","labelPadding":3.5,"titlePadding":14}}}},
{"data":{"values":[{"dist":21.68,"cov":3.1545,"label":"−14"},{"dist":27.91,"cov":3.0595,"label":"−14"}]},"mark":{"type":"text","fontSize":12.5,"align":"left","baseline":"alphabetic"},"encoding":{"text":{"field":"label"},"y":{"field":"cov","type":"quantitative","scale":{"domain":[2.272,3.242],"nice":false,"zero":false},"axis":{"values":[2.5,2.75,3.0],"format":".2f","title":"uCG coverage","labelPadding":3.5,"titlePadding":14}}}}
]}
]}
]
}
